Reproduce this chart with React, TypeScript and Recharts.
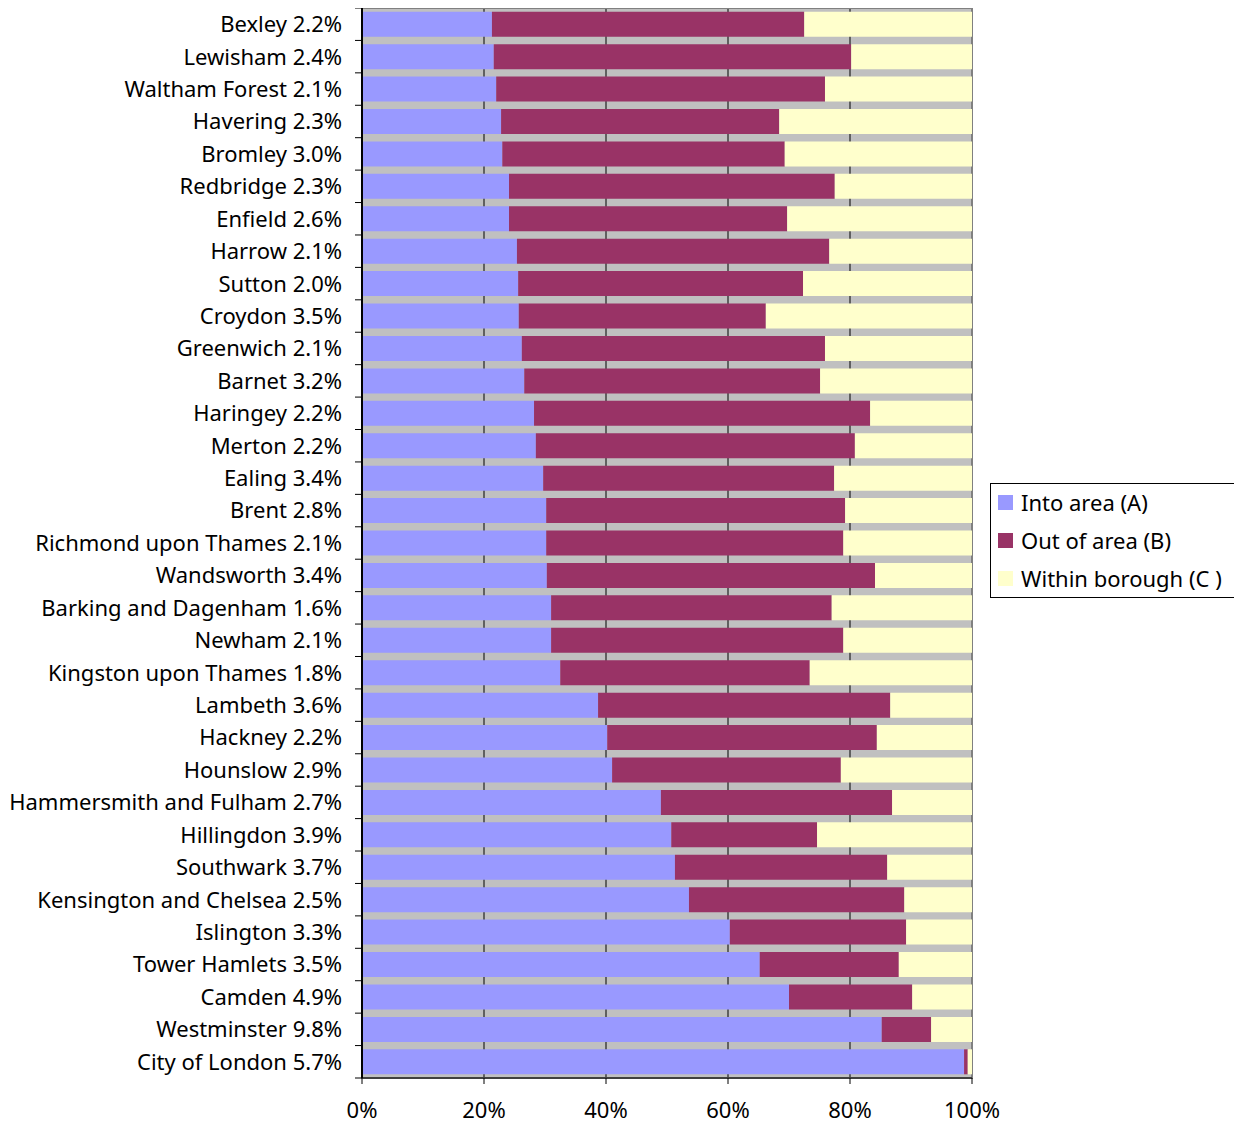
import React from 'react';
import { BarChart, Bar, XAxis, YAxis, CartesianGrid, ReferenceArea } from 'recharts';

const categories = [
  'Bexley 2.2%', 'Lewisham 2.4%', 'Waltham Forest 2.1%', 'Havering 2.3%', 'Bromley 3.0%',
  'Redbridge 2.3%', 'Enfield 2.6%', 'Harrow 2.1%', 'Sutton 2.0%', 'Croydon 3.5%',
  'Greenwich 2.1%', 'Barnet 3.2%', 'Haringey 2.2%', 'Merton 2.2%', 'Ealing 3.4%',
  'Brent 2.8%', 'Richmond upon Thames 2.1%', 'Wandsworth 3.4%', 'Barking and Dagenham 1.6%', 'Newham 2.1%',
  'Kingston upon Thames 1.8%', 'Lambeth 3.6%', 'Hackney 2.2%', 'Hounslow 2.9%', 'Hammersmith and Fulham 2.7%',
  'Hillingdon 3.9%', 'Southwark 3.7%', 'Kensington and Chelsea 2.5%', 'Islington 3.3%', 'Tower Hamlets 3.5%',
  'Camden 4.9%', 'Westminster 9.8%', 'City of London 5.7%',
];

const intoArea = [
  21.3, 21.6, 22.0, 22.8, 23.0, 24.1, 24.1, 25.4, 25.6, 25.7,
  26.2, 26.6, 28.2, 28.5, 29.7, 30.2, 30.2, 30.3, 31.0, 31.0,
  32.5, 38.7, 40.2, 41.0, 49.0, 50.7, 51.3, 53.6, 60.3, 65.2,
  70.0, 85.2, 98.7,
];

const outOfArea = [
  51.2, 58.6, 53.9, 45.6, 46.3, 53.4, 45.6, 51.2, 46.7, 40.5,
  49.7, 48.5, 55.1, 52.3, 47.7, 49.0, 48.7, 53.8, 46.0, 47.9,
  40.9, 47.9, 44.2, 37.5, 37.9, 23.9, 34.8, 35.3, 28.9, 22.8,
  20.2, 8.1, 0.6,
];

const withinBorough = [
  27.5, 19.8, 24.1, 31.6, 30.7, 22.5, 30.3, 23.4, 27.7, 33.8,
  24.1, 24.9, 16.7, 19.2, 22.6, 20.8, 21.1, 15.9, 23.0, 21.1,
  26.6, 13.4, 15.6, 21.5, 13.1, 25.4, 13.9, 11.1, 10.8, 12.0,
  9.8, 6.7, 0.7,
];

const xTicks = [0, 20, 40, 60, 80, 100];

const data = categories.map((name, i) => ({
  name,
  a: intoArea[i],
  b: outOfArea[i],
  c: withinBorough[i],
}));

const COLORS = { a: '#9999FF', b: '#993366', c: '#FFFFCC' };
const FONT = '"Noto Sans", sans-serif';

const CHART_W = 1234;
const CHART_H = 1118;
const X_AXIS_H = 48;
const MARGIN = { top: 0, right: 270, bottom: 0, left: 0 };
const PLOT_H = CHART_H - MARGIN.top - MARGIN.bottom - X_AXIS_H;
const BAND = PLOT_H / categories.length;
const TICK_GAP = 20;

const YTick = (props: any) => {
  const { x, y, payload, index } = props;
  const axisX = x + TICK_GAP;
  const top = y - BAND / 2;
  const bottom = y + BAND / 2;
  return (
    <g>
      <line x1={axisX - 7} x2={axisX} y1={top} y2={top} stroke="#000" strokeWidth={1} />
      {index === categories.length - 1 && (
        <line x1={axisX - 7} x2={axisX} y1={bottom} y2={bottom} stroke="#000" strokeWidth={1} />
      )}
      <text x={x} y={y} dy="0.36em" textAnchor="end" fontFamily={FONT} fontSize={22} fill="#000">
        {payload.value}
      </text>
    </g>
  );
};

const legendItems = [
  { label: 'Into area (A)', color: COLORS.a },
  { label: 'Out of area (B)', color: COLORS.b },
  { label: 'Within borough (C )', color: COLORS.c },
];

export default function App() {
  return (
    <div style={{ position: 'relative', width: CHART_W, height: CHART_H }}>
      <BarChart
        width={CHART_W}
        height={CHART_H}
        data={data}
        layout="vertical"
        margin={MARGIN}
        barCategoryGap="11.5%"
      >
        <CartesianGrid horizontal={false} vertical={true} stroke="#000" strokeWidth={1} fill="#C0C0C0" />
        <XAxis
          type="number"
          domain={[0, 100]}
          ticks={xTicks}
          height={X_AXIS_H}
          tickFormatter={(v: number) => `${v}%`}
          tick={{ fontFamily: FONT, fontSize: 22, fill: '#000' }}
          tickSize={6}
          tickMargin={18}
          axisLine={{ stroke: '#000', strokeWidth: 1 }}
          tickLine={{ stroke: '#000' }}
          interval={0}
        />
        <YAxis
          type="category"
          dataKey="name"
          width={354}
          tick={<YTick />}
          tickLine={false}
          tickSize={0}
          tickMargin={TICK_GAP}
          interval={0}
          axisLine={{ stroke: '#000', strokeWidth: 2 }}
        />
        <Bar dataKey="a" stackId="s" fill={COLORS.a} isAnimationActive={false} />
        <Bar dataKey="b" stackId="s" fill={COLORS.b} isAnimationActive={false} />
        <Bar dataKey="c" stackId="s" fill={COLORS.c} isAnimationActive={false} />
        <ReferenceArea x1={0} x2={100} fill="none" fillOpacity={0} stroke="#808080" strokeWidth={2} />
      </BarChart>
      <div
        style={{
          position: 'absolute',
          left: 982,
          top: 475,
          width: 244,
          height: 113,
          border: '1px solid #000',
          background: '#fff',
          fontFamily: FONT,
          fontSize: 22,
          color: '#000',
        }}
      >
        {legendItems.map((it, i) => (
          <div
            key={it.label}
            style={{
              position: 'absolute',
              left: 7,
              top: 3 + i * 38,
              height: 30,
              display: 'flex',
              alignItems: 'center',
              whiteSpace: 'nowrap',
            }}
          >
            <span style={{ display: 'inline-block', width: 15, height: 15, background: it.color, marginRight: 8 }} />
            <span>{it.label}</span>
          </div>
        ))}
      </div>
    </div>
  );
}
